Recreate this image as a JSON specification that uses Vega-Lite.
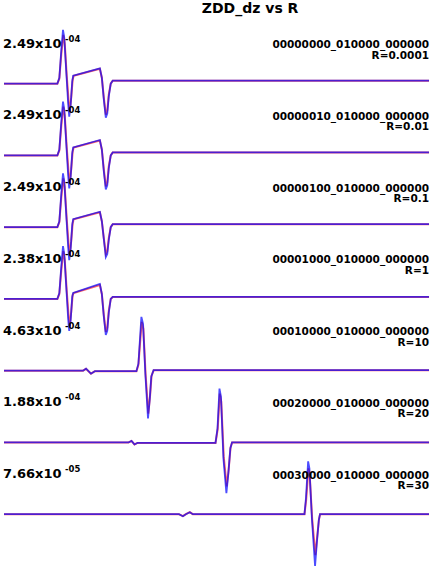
{
  "$schema": "https://vega.github.io/schema/vega-lite/v6.json",
  "width": 433,
  "height": 570,
  "autosize": {"type": "fit", "contains": "padding"},
  "padding": 0,
  "background": "white",
  "config": {"view": {"stroke": null}},
  "datasets": {
    "traces": [
      {"k":0,"s":"red","t":1,"y":0},{"k":0,"s":"red","t":55,"y":0},{"k":0,"s":"red","t":57,"y":5},{"k":0,"s":"red","t":59,"y":30},{"k":0,"s":"red","t":61,"y":49},{"k":0,"s":"red","t":62.5,"y":40},{"k":0,"s":"red","t":64.5,"y":8},{"k":0,"s":"red","t":66.5,"y":-19},{"k":0,"s":"red","t":67.5,"y":-28},{"k":0,"s":"red","t":69,"y":-14},{"k":0,"s":"red","t":70.5,"y":4},{"k":0,"s":"red","t":71.5,"y":8},{"k":0,"s":"red","t":98,"y":15},{"k":0,"s":"red","t":100,"y":6},{"k":0,"s":"red","t":102,"y":-14},{"k":0,"s":"red","t":104,"y":-31},{"k":0,"s":"red","t":105.5,"y":-27},{"k":0,"s":"red","t":107,"y":-11},{"k":0,"s":"red","t":109,"y":0},{"k":0,"s":"red","t":111,"y":3},{"k":0,"s":"red","t":431,"y":3},
      {"k":0,"s":"blue","t":1,"y":0},{"k":0,"s":"blue","t":55,"y":0},{"k":0,"s":"blue","t":57,"y":6},{"k":0,"s":"blue","t":59,"y":34},{"k":0,"s":"blue","t":60.7,"y":54},{"k":0,"s":"blue","t":62,"y":46},{"k":0,"s":"blue","t":64,"y":12},{"k":0,"s":"blue","t":66,"y":-21},{"k":0,"s":"blue","t":67,"y":-33},{"k":0,"s":"blue","t":68.5,"y":-21},{"k":0,"s":"blue","t":70,"y":2},{"k":0,"s":"blue","t":71,"y":8},{"k":0,"s":"blue","t":98,"y":15.5},{"k":0,"s":"blue","t":100,"y":6},{"k":0,"s":"blue","t":102,"y":-16},{"k":0,"s":"blue","t":104,"y":-34},{"k":0,"s":"blue","t":105.5,"y":-30},{"k":0,"s":"blue","t":107,"y":-13},{"k":0,"s":"blue","t":109,"y":0},{"k":0,"s":"blue","t":111,"y":3},{"k":0,"s":"blue","t":431,"y":3},

      {"k":1,"s":"red","t":1,"y":-72},{"k":1,"s":"red","t":55,"y":-72},{"k":1,"s":"red","t":57,"y":-67},{"k":1,"s":"red","t":59,"y":-42},{"k":1,"s":"red","t":61,"y":-23},{"k":1,"s":"red","t":62.5,"y":-32},{"k":1,"s":"red","t":64.5,"y":-64},{"k":1,"s":"red","t":66.5,"y":-91},{"k":1,"s":"red","t":67.5,"y":-100},{"k":1,"s":"red","t":69,"y":-86},{"k":1,"s":"red","t":70.5,"y":-68},{"k":1,"s":"red","t":71.5,"y":-64},{"k":1,"s":"red","t":98,"y":-57},{"k":1,"s":"red","t":100,"y":-66},{"k":1,"s":"red","t":102,"y":-86},{"k":1,"s":"red","t":104,"y":-103},{"k":1,"s":"red","t":105.5,"y":-99},{"k":1,"s":"red","t":107,"y":-83},{"k":1,"s":"red","t":109,"y":-72},{"k":1,"s":"red","t":111,"y":-69},{"k":1,"s":"red","t":431,"y":-69},
      {"k":1,"s":"blue","t":1,"y":-72},{"k":1,"s":"blue","t":55,"y":-72},{"k":1,"s":"blue","t":57,"y":-66},{"k":1,"s":"blue","t":59,"y":-38},{"k":1,"s":"blue","t":60.7,"y":-18},{"k":1,"s":"blue","t":62,"y":-26},{"k":1,"s":"blue","t":64,"y":-60},{"k":1,"s":"blue","t":66,"y":-93},{"k":1,"s":"blue","t":67,"y":-105},{"k":1,"s":"blue","t":68.5,"y":-93},{"k":1,"s":"blue","t":70,"y":-70},{"k":1,"s":"blue","t":71,"y":-64},{"k":1,"s":"blue","t":98,"y":-56.5},{"k":1,"s":"blue","t":100,"y":-66},{"k":1,"s":"blue","t":102,"y":-88},{"k":1,"s":"blue","t":104,"y":-106},{"k":1,"s":"blue","t":105.5,"y":-102},{"k":1,"s":"blue","t":107,"y":-85},{"k":1,"s":"blue","t":109,"y":-72},{"k":1,"s":"blue","t":111,"y":-69},{"k":1,"s":"blue","t":431,"y":-69},

      {"k":2,"s":"red","t":1,"y":-144},{"k":2,"s":"red","t":55,"y":-144},{"k":2,"s":"red","t":57,"y":-139},{"k":2,"s":"red","t":59,"y":-114},{"k":2,"s":"red","t":61,"y":-95},{"k":2,"s":"red","t":62.5,"y":-104},{"k":2,"s":"red","t":64.5,"y":-136},{"k":2,"s":"red","t":66.5,"y":-163},{"k":2,"s":"red","t":67.5,"y":-172},{"k":2,"s":"red","t":69,"y":-158},{"k":2,"s":"red","t":70.5,"y":-140},{"k":2,"s":"red","t":71.5,"y":-136},{"k":2,"s":"red","t":98,"y":-129},{"k":2,"s":"red","t":100,"y":-138},{"k":2,"s":"red","t":102,"y":-155},{"k":2,"s":"red","t":104,"y":-171},{"k":2,"s":"red","t":105.5,"y":-168},{"k":2,"s":"red","t":107,"y":-155},{"k":2,"s":"red","t":109,"y":-144},{"k":2,"s":"red","t":111,"y":-141},{"k":2,"s":"red","t":431,"y":-141},
      {"k":2,"s":"blue","t":1,"y":-144},{"k":2,"s":"blue","t":55,"y":-144},{"k":2,"s":"blue","t":57,"y":-138},{"k":2,"s":"blue","t":59,"y":-110},{"k":2,"s":"blue","t":60.7,"y":-90},{"k":2,"s":"blue","t":62,"y":-98},{"k":2,"s":"blue","t":64,"y":-132},{"k":2,"s":"blue","t":66,"y":-165},{"k":2,"s":"blue","t":67,"y":-177},{"k":2,"s":"blue","t":68.5,"y":-165},{"k":2,"s":"blue","t":70,"y":-142},{"k":2,"s":"blue","t":71,"y":-136},{"k":2,"s":"blue","t":98,"y":-128.5},{"k":2,"s":"blue","t":100,"y":-138},{"k":2,"s":"blue","t":102,"y":-156},{"k":2,"s":"blue","t":104,"y":-174},{"k":2,"s":"blue","t":105.5,"y":-171},{"k":2,"s":"blue","t":107,"y":-157},{"k":2,"s":"blue","t":109,"y":-144},{"k":2,"s":"blue","t":111,"y":-141},{"k":2,"s":"blue","t":431,"y":-141},

      {"k":3,"s":"red","t":1,"y":-216},{"k":3,"s":"red","t":55,"y":-216},{"k":3,"s":"red","t":57,"y":-211},{"k":3,"s":"red","t":59,"y":-187},{"k":3,"s":"red","t":61,"y":-168},{"k":3,"s":"red","t":62.5,"y":-177},{"k":3,"s":"red","t":64.5,"y":-208},{"k":3,"s":"red","t":66.5,"y":-235},{"k":3,"s":"red","t":67.5,"y":-243},{"k":3,"s":"red","t":69,"y":-229},{"k":3,"s":"red","t":70.5,"y":-212},{"k":3,"s":"red","t":71.5,"y":-210},{"k":3,"s":"red","t":98,"y":-202},{"k":3,"s":"red","t":100,"y":-211},{"k":3,"s":"red","t":102,"y":-232},{"k":3,"s":"red","t":104,"y":-249},{"k":3,"s":"red","t":105.5,"y":-245},{"k":3,"s":"red","t":107,"y":-228},{"k":3,"s":"red","t":109,"y":-216},{"k":3,"s":"red","t":111,"y":-214},{"k":3,"s":"red","t":431,"y":-214},
      {"k":3,"s":"blue","t":1,"y":-216},{"k":3,"s":"blue","t":55,"y":-216},{"k":3,"s":"blue","t":57,"y":-210},{"k":3,"s":"blue","t":59,"y":-183},{"k":3,"s":"blue","t":60.7,"y":-163},{"k":3,"s":"blue","t":62,"y":-171},{"k":3,"s":"blue","t":64,"y":-204},{"k":3,"s":"blue","t":66,"y":-237},{"k":3,"s":"blue","t":67,"y":-248},{"k":3,"s":"blue","t":68.5,"y":-237},{"k":3,"s":"blue","t":70,"y":-214},{"k":3,"s":"blue","t":71,"y":-210},{"k":3,"s":"blue","t":98,"y":-201},{"k":3,"s":"blue","t":100,"y":-211},{"k":3,"s":"blue","t":102,"y":-234},{"k":3,"s":"blue","t":104,"y":-252},{"k":3,"s":"blue","t":105.5,"y":-248},{"k":3,"s":"blue","t":107,"y":-230},{"k":3,"s":"blue","t":109,"y":-216},{"k":3,"s":"blue","t":111,"y":-214},{"k":3,"s":"blue","t":431,"y":-214},

      {"k":4,"s":"red","t":1,"y":-288},{"k":4,"s":"red","t":81,"y":-288},{"k":4,"s":"red","t":84,"y":-286},{"k":4,"s":"red","t":89,"y":-291},{"k":4,"s":"red","t":93,"y":-288.5},{"k":4,"s":"red","t":135,"y":-288.5},{"k":4,"s":"red","t":137,"y":-282},{"k":4,"s":"red","t":140.3,"y":-239},{"k":4,"s":"red","t":142,"y":-246},{"k":4,"s":"red","t":144.3,"y":-292},{"k":4,"s":"red","t":147,"y":-331},{"k":4,"s":"red","t":148.8,"y":-313},{"k":4,"s":"red","t":150.3,"y":-293},{"k":4,"s":"red","t":152.5,"y":-287.5},{"k":4,"s":"red","t":431,"y":-287.5},
      {"k":4,"s":"blue","t":1,"y":-288},{"k":4,"s":"blue","t":81,"y":-288},{"k":4,"s":"blue","t":84,"y":-286},{"k":4,"s":"blue","t":89,"y":-291},{"k":4,"s":"blue","t":93,"y":-288.5},{"k":4,"s":"blue","t":135,"y":-288.5},{"k":4,"s":"blue","t":137,"y":-281},{"k":4,"s":"blue","t":140,"y":-234},{"k":4,"s":"blue","t":141.7,"y":-241},{"k":4,"s":"blue","t":144,"y":-291},{"k":4,"s":"blue","t":146.7,"y":-336},{"k":4,"s":"blue","t":148.5,"y":-316},{"k":4,"s":"blue","t":150,"y":-294},{"k":4,"s":"blue","t":152.3,"y":-287.5},{"k":4,"s":"blue","t":431,"y":-287.5},

      {"k":5,"s":"red","t":1,"y":-360},{"k":5,"s":"red","t":127,"y":-360},{"k":5,"s":"red","t":130,"y":-358.5},{"k":5,"s":"red","t":133,"y":-362},{"k":5,"s":"red","t":136,"y":-360.5},{"k":5,"s":"red","t":215,"y":-360.5},{"k":5,"s":"red","t":217.2,"y":-347},{"k":5,"s":"red","t":219.3,"y":-311},{"k":5,"s":"red","t":220.8,"y":-319},{"k":5,"s":"red","t":223.3,"y":-374},{"k":5,"s":"red","t":226.3,"y":-404},{"k":5,"s":"red","t":228.3,"y":-387},{"k":5,"s":"red","t":230.2,"y":-365},{"k":5,"s":"red","t":231.8,"y":-360},{"k":5,"s":"red","t":431,"y":-360},
      {"k":5,"s":"blue","t":1,"y":-360},{"k":5,"s":"blue","t":127,"y":-360},{"k":5,"s":"blue","t":130,"y":-358.5},{"k":5,"s":"blue","t":133,"y":-362},{"k":5,"s":"blue","t":136,"y":-360.5},{"k":5,"s":"blue","t":215,"y":-360.5},{"k":5,"s":"blue","t":217,"y":-346},{"k":5,"s":"blue","t":219,"y":-306},{"k":5,"s":"blue","t":220.5,"y":-314},{"k":5,"s":"blue","t":223,"y":-376},{"k":5,"s":"blue","t":226,"y":-411},{"k":5,"s":"blue","t":228,"y":-391},{"k":5,"s":"blue","t":230,"y":-366},{"k":5,"s":"blue","t":231.7,"y":-360},{"k":5,"s":"blue","t":431,"y":-360},

      {"k":6,"s":"red","t":1,"y":-432},{"k":6,"s":"red","t":178,"y":-432},{"k":6,"s":"red","t":182,"y":-434},{"k":6,"s":"red","t":185,"y":-432},{"k":6,"s":"red","t":189,"y":-430},{"k":6,"s":"red","t":192,"y":-432},{"k":6,"s":"red","t":305,"y":-432},{"k":6,"s":"red","t":306.7,"y":-418},{"k":6,"s":"red","t":309,"y":-386},{"k":6,"s":"red","t":310.3,"y":-393},{"k":6,"s":"red","t":312.8,"y":-437},{"k":6,"s":"red","t":316,"y":-473},{"k":6,"s":"red","t":317.8,"y":-455},{"k":6,"s":"red","t":319.7,"y":-437},{"k":6,"s":"red","t":320.8,"y":-432},{"k":6,"s":"red","t":431,"y":-432},
      {"k":6,"s":"blue","t":1,"y":-432},{"k":6,"s":"blue","t":178,"y":-432},{"k":6,"s":"blue","t":182,"y":-434},{"k":6,"s":"blue","t":185,"y":-432},{"k":6,"s":"blue","t":189,"y":-430},{"k":6,"s":"blue","t":192,"y":-432},{"k":6,"s":"blue","t":305,"y":-432},{"k":6,"s":"blue","t":306.5,"y":-416},{"k":6,"s":"blue","t":308.7,"y":-379},{"k":6,"s":"blue","t":310,"y":-386},{"k":6,"s":"blue","t":312.5,"y":-436},{"k":6,"s":"blue","t":315.7,"y":-484},{"k":6,"s":"blue","t":317.5,"y":-461},{"k":6,"s":"blue","t":319.5,"y":-438},{"k":6,"s":"blue","t":320.7,"y":-432},{"k":6,"s":"blue","t":431,"y":-432}
    ],
    "labels": [
      {"k":0,"base":0,"v":"2.49x10","e":"-04","id":"00000000_010000_000000","r":"R=0.0001"},
      {"k":1,"base":-72,"v":"2.49x10","e":"-04","id":"00000010_010000_000000","r":"R=0.01"},
      {"k":2,"base":-144,"v":"2.49x10","e":"-04","id":"00000100_010000_000000","r":"R=0.1"},
      {"k":3,"base":-216,"v":"2.38x10","e":"-04","id":"00001000_010000_000000","r":"R=1"},
      {"k":4,"base":-288,"v":"4.63x10","e":"-04","id":"00010000_010000_000000","r":"R=10"},
      {"k":5,"base":-360,"v":"1.88x10","e":"-04","id":"00020000_010000_000000","r":"R=20"},
      {"k":6,"base":-432,"v":"7.66x10","e":"-05","id":"00030000_010000_000000","r":"R=30"}
    ],
    "title": [{"text":"ZDD_dz vs R"}]
  },
  "layer": [
    {
      "data": {"name": "traces"},
      "transform": [{"filter": "datum.s === 'red'"}],
      "mark": {"type": "line", "color": "#ff0000", "strokeWidth": 2, "opacity": 0.6, "interpolate": "linear"},
      "encoding": {
        "x": {"field": "t", "type": "quantitative", "scale": {"domain": [0, 433], "nice": false, "zero": false}, "axis": null},
        "y": {"field": "y", "type": "quantitative", "scale": {"domain": [-486, 84], "nice": false, "zero": false}, "axis": null},
        "detail": {"field": "k"}
      }
    },
    {
      "data": {"name": "traces"},
      "transform": [{"filter": "datum.s === 'blue'"}],
      "mark": {"type": "line", "color": "#0000ff", "strokeWidth": 1.8, "opacity": 0.7, "interpolate": "linear"},
      "encoding": {
        "x": {"field": "t", "type": "quantitative", "axis": null},
        "y": {"field": "y", "type": "quantitative", "axis": null},
        "detail": {"field": "k"}
      }
    },
    {
      "data": {"name": "labels"},
      "mark": {"type": "text", "align": "left", "baseline": "alphabetic", "dy": -36, "font": "DejaVu Sans", "fontWeight": "bold", "fontSize": 13, "color": "black"},
      "encoding": {
        "x": {"datum": 0, "type": "quantitative"},
        "y": {"field": "base", "type": "quantitative"},
        "text": {"field": "v"}
      }
    },
    {
      "data": {"name": "labels"},
      "mark": {"type": "text", "align": "left", "baseline": "alphabetic", "dx": 62, "dy": -42, "font": "DejaVu Sans", "fontWeight": "bold", "fontSize": 8.5, "color": "black"},
      "encoding": {
        "x": {"datum": 0, "type": "quantitative"},
        "y": {"field": "base", "type": "quantitative"},
        "text": {"field": "e"}
      }
    },
    {
      "data": {"name": "labels"},
      "mark": {"type": "text", "align": "right", "baseline": "alphabetic", "dy": -35.5, "font": "DejaVu Sans", "fontWeight": "bold", "fontSize": 10.5, "color": "black"},
      "encoding": {
        "x": {"datum": 431, "type": "quantitative"},
        "y": {"field": "base", "type": "quantitative"},
        "text": {"field": "id"}
      }
    },
    {
      "data": {"name": "labels"},
      "mark": {"type": "text", "align": "right", "baseline": "alphabetic", "dy": -25, "font": "DejaVu Sans", "fontWeight": "bold", "fontSize": 10.5, "color": "black"},
      "encoding": {
        "x": {"datum": 431, "type": "quantitative"},
        "y": {"field": "base", "type": "quantitative"},
        "text": {"field": "r"}
      }
    },
    {
      "data": {"name": "title"},
      "mark": {"type": "text", "align": "center", "baseline": "alphabetic", "dy": 12.5, "font": "DejaVu Sans", "fontWeight": "bold", "fontSize": 14, "color": "black"},
      "encoding": {
        "x": {"datum": 250, "type": "quantitative"},
        "y": {"datum": 84, "type": "quantitative"},
        "text": {"field": "text"}
      }
    }
  ]
}
